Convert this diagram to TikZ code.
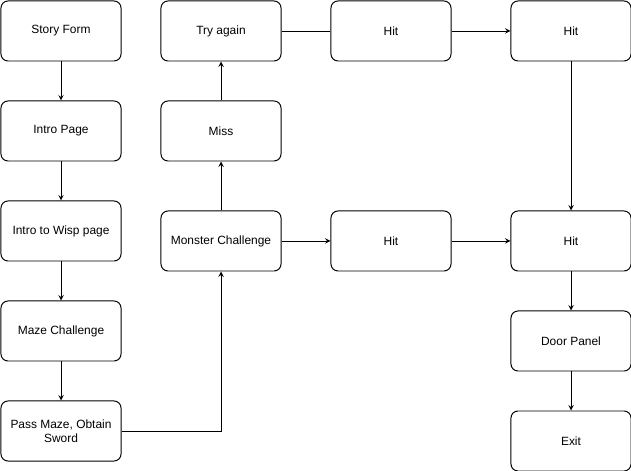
\documentclass[tikz,border=0pt]{standalone}
\usepackage{fontspec}
\setmainfont{Liberation Sans}
\begin{document}
\begin{tikzpicture}[x=0.025cm, y=-0.025cm, line width=0.7pt,
		box/.style={draw, rounded corners=5pt, minimum width=3cm, minimum height=1.5cm, align=center, font=\fontsize{8.5}{10}\selectfont, inner sep=1pt}]
		\useasboundingbox (0, 0) rectangle (631, 471);

		\node[box] (story) at (61, 31) {Story Form};
		\node[box] (intro) at (61, 131) {Intro Page};
		\node[box] (wisp) at (61, 231) {Intro to Wisp page};
		\node[box] (maze) at (61, 331) {Maze Challenge};
		\node[box] (pass) at (61, 431) {Pass Maze, Obtain\\Sword};

		\node[box] (try) at (221, 31) {Try again};
		\node[box] (miss) at (221, 131) {Miss};
		\node[box] (monster) at (221, 241) {Monster Challenge};

		\node[box] (hitA) at (391, 31) {Hit};
		\node[box] (hitB) at (391, 241) {Hit};

		\node[box] (hitC) at (571, 31) {Hit};
		\node[box] (hitD) at (571, 241) {Hit};
		\node[box] (door) at (571, 341) {Door Panel};
		\node[box] (exit) at (571, 441) {Exit};

		\draw[-stealth] (story) -- (intro);
		\draw[-stealth] (intro) -- (wisp);
		\draw[-stealth] (wisp) -- (maze);
		\draw[-stealth] (maze) -- (pass);
		\draw[-stealth] (pass.east) -| (monster.south);

		\draw[-stealth] (monster) -- (miss);
		\draw[-stealth] (miss) -- (try);
		\draw (try) -- (hitA);
		\draw[-stealth] (hitA) -- (hitC);
		\draw[-stealth] (hitC) -- (hitD);

		\draw[-stealth] (monster) -- (hitB);
		\draw[-stealth] (hitB) -- (hitD);
		\draw[-stealth] (hitD) -- (door);
		\draw[-stealth] (door) -- (exit);
	\end{tikzpicture}
\end{document}
